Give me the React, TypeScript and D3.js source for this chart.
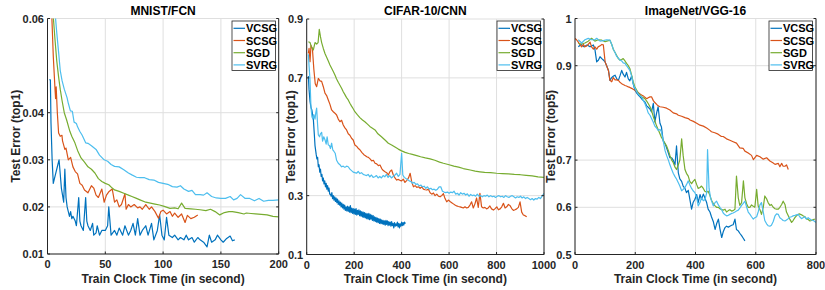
import React from "react";
import * as d3 from "d3";

type P = [number, number];

const seriesNames = ["VCSG", "SCSG", "SGD", "SVRG"];
const seriesColors = ["#0072BD", "#D95319", "#77AC30", "#4DBEEE"];
const titles = ["MNIST/FCN", "CIFAR-10/CNN", "ImageNet/VGG-16"];
const yLabels = ["Test Error (top1)", "Test Error (top1)", "Test Error (top5)"];
const xLabel = "Train Clock Time (in second)";

const mnistXTicks = [0, 50, 100, 150, 200];
const mnistYTicks = [0.01, 0.02, 0.03, 0.04, 0.06];
const cifarXTicks = [0, 200, 400, 600, 800, 1000];
const cifarYTicks = [0.1, 0.3, 0.7, 0.9];
const imagenetXTicks = [0, 200, 400, 600, 800];
const imagenetYTicks = [0.5, 0.6, 0.7, 0.9, 1];

const mnistVCSG: P[] = [[1.5,0.047],[2.5,0.047],[3,0.038],[4,0.030],[5,0.025],[7,0.027],[9,0.029],[10,0.030],[12,0.024],[14,0.021],[15,0.028],[16,0.022],[17,0.020],[19,0.018],[20,0.019],[21,0.0175],[22,0.018],[24,0.017],[25,0.016],[27,0.022],[28,0.017],[29,0.016],[31,0.015],[33,0.022],[34,0.017],[35,0.016],[37,0.015],[39,0.0165],[40,0.014],[42,0.0145],[43,0.016],[45,0.014],[47,0.015],[50,0.015],[52,0.016],[53,0.020],[55,0.014],[58,0.015],[60,0.014],[62,0.0155],[65,0.014],[67,0.016],[70,0.014],[72,0.015],[74,0.0165],[76,0.014],[78,0.0175],[80,0.014],[82,0.015],[85,0.016],[87,0.014],[90,0.0165],[92,0.013],[95,0.015],[97,0.0183],[99,0.014],[101,0.013],[103,0.0178],[105,0.014],[108,0.0135],[110,0.014],[113,0.013],[115,0.0135],[118,0.013],[120,0.014],[122,0.013],[125,0.0135],[127,0.0125],[130,0.0135],[132,0.013],[135,0.0125],[138,0.0115],[140,0.014],[142,0.0125],[145,0.013],[147,0.014],[150,0.013],[152,0.0125],[155,0.0133],[158,0.0138],[160,0.0128],[162,0.013]];
const mnistSCSG: P[] = [[3.5,0.062],[5,0.052],[6.5,0.045],[7,0.043],[7.5,0.0455],[8.5,0.040],[9.6,0.0357],[11,0.035],[12.5,0.0352],[13,0.034],[15,0.0322],[16,0.0325],[18,0.030],[20,0.0305],[22,0.0285],[24,0.0275],[26,0.027],[28,0.025],[30,0.0246],[32,0.0236],[35,0.023],[38,0.0245],[40,0.024],[42,0.0225],[44,0.022],[47,0.0238],[49,0.021],[51,0.0225],[53,0.0232],[56,0.0238],[58,0.021],[60,0.0215],[62,0.020],[64,0.0205],[67,0.0228],[68,0.0195],[70,0.0205],[72,0.020],[75,0.0205],[78,0.0198],[80,0.020],[82,0.0195],[85,0.0205],[88,0.0195],[90,0.0200],[93,0.019],[96,0.0176],[98,0.019],[100,0.0193],[103,0.0185],[106,0.019],[108,0.018],[110,0.0187],[113,0.0178],[116,0.0185],[119,0.0167],[121,0.0182],[124,0.0175],[127,0.0178],[130,0.0183]];
const mnistSGD: P[] = [[4.5,0.062],[6.5,0.0555],[8,0.051],[9.6,0.0476],[11,0.045],[12.5,0.0427],[14.5,0.040],[16.5,0.0385],[19.4,0.036],[21,0.035],[23.7,0.0336],[26,0.032],[29,0.0304],[32,0.0295],[35,0.0285],[38,0.028],[41,0.0272],[44,0.026],[47,0.0254],[50,0.025],[53,0.0247],[56,0.024],[58,0.0236],[62,0.0233],[66,0.0229],[70,0.0225],[73,0.0222],[77,0.0218],[80,0.0215],[85,0.021],[89,0.0208],[93,0.0206],[97,0.0204],[101,0.0201],[106,0.0197],[110,0.0198],[113,0.0196],[116,0.0208],[119,0.0197],[124,0.0196],[128,0.0195],[132,0.0194],[137,0.0192],[141,0.0195],[145,0.019],[149,0.0183],[153,0.0188],[157,0.019],[160,0.019],[165,0.0188],[170,0.0185],[172,0.0187],[176,0.0186],[180,0.0185],[185,0.0184],[190,0.0183],[195,0.018],[200,0.0179]];
const mnistSVRG: P[] = [[6.3,0.062],[8,0.057],[9.7,0.0526],[11,0.049],[12.6,0.0468],[14.5,0.045],[16.9,0.0432],[18,0.042],[19.8,0.0404],[21.5,0.0403],[23,0.038],[25,0.0377],[26,0.037],[28,0.036],[30,0.0352],[33,0.0336],[35,0.0335],[38,0.033],[42,0.0322],[45,0.031],[49,0.0300],[52,0.0297],[55,0.029],[58,0.0286],[62,0.0285],[66,0.0279],[70,0.0272],[73,0.0268],[77,0.0263],[80,0.0262],[84,0.0262],[88,0.0258],[92,0.0257],[96,0.0252],[100,0.025],[104,0.0248],[108,0.0243],[112,0.0242],[115,0.0245],[118,0.0238],[122,0.0233],[125,0.0235],[128,0.0226],[132,0.0226],[135,0.0225],[138,0.0230],[142,0.0222],[146,0.0219],[150,0.0218],[154,0.0218],[158,0.0222],[161,0.0215],[164,0.0218],[167,0.0226],[171,0.0218],[175,0.0218],[179,0.0213],[183,0.0218],[187,0.0212],[191,0.0214],[195,0.0214],[200,0.0215]];

const cifarVCSG: P[] = [[7,0.706],[10,0.66],[14,0.62],[18,0.60],[22,0.59],[28,0.56],[32,0.51],[35,0.47],[40,0.44],[43,0.425],[46,0.43],[49,0.398],[52,0.405],[55,0.38],[58,0.39],[61,0.365],[64,0.372],[67,0.35],[70,0.36],[73,0.34],[76,0.35],[79,0.33],[82,0.342],[85,0.322],[88,0.334],[91,0.315],[94,0.326],[97,0.305],[100,0.305],[103,0.298],[106,0.31],[109,0.29],[112,0.3],[115,0.285],[118,0.296],[121,0.28],[124,0.292],[127,0.276],[130,0.288],[133,0.27],[136,0.282],[139,0.268],[142,0.278],[145,0.262],[148,0.275],[151,0.258],[154,0.27],[157,0.254],[160,0.268],[163,0.25],[166,0.262],[169,0.248],[172,0.264],[175,0.246],[178,0.262],[181,0.244],[184,0.266],[187,0.242],[190,0.258],[193,0.24],[196,0.256],[199,0.238],[202,0.254],[205,0.236],[208,0.256],[211,0.234],[214,0.25],[217,0.236],[220,0.252],[223,0.232],[226,0.248],[229,0.23],[232,0.246],[235,0.228],[238,0.244],[241,0.226],[244,0.242],[247,0.224],[250,0.24],[253,0.222],[256,0.238],[259,0.22],[262,0.24],[265,0.218],[268,0.236],[271,0.22],[274,0.234],[277,0.216],[280,0.232],[283,0.214],[286,0.228],[289,0.212],[292,0.226],[295,0.21],[298,0.224],[301,0.208],[304,0.222],[307,0.206],[310,0.22],[313,0.205],[316,0.218],[319,0.204],[322,0.216],[325,0.202],[328,0.214],[331,0.2],[334,0.216],[337,0.202],[340,0.214],[343,0.198],[346,0.212],[349,0.2],[352,0.21],[355,0.196],[358,0.212],[361,0.198],[364,0.206],[367,0.19],[370,0.208],[373,0.196],[376,0.204],[379,0.198],[382,0.21],[385,0.194],[388,0.206],[391,0.19],[394,0.204],[397,0.196],[400,0.21],[403,0.198],[406,0.208],[409,0.2],[412,0.21],[416,0.205]];
const cifarSCSG: P[] = [[7,0.783],[10,0.80],[14,0.755],[18,0.81],[24,0.80],[30,0.73],[36,0.68],[42,0.67],[49,0.698],[56,0.69],[63,0.688],[70,0.67],[77,0.648],[84,0.64],[91,0.625],[98,0.61],[105,0.591],[112,0.585],[119,0.58],[126,0.574],[133,0.56],[140,0.551],[147,0.556],[154,0.54],[161,0.53],[168,0.523],[175,0.51],[182,0.505],[189,0.495],[196,0.489],[203,0.472],[210,0.468],[218,0.46],[225,0.455],[232,0.447],[240,0.44],[246,0.436],[253,0.432],[260,0.43],[267,0.425],[274,0.418],[281,0.42],[288,0.41],[295,0.408],[302,0.402],[309,0.404],[316,0.392],[323,0.385],[330,0.381],[337,0.378],[344,0.37],[351,0.382],[358,0.387],[365,0.37],[372,0.36],[379,0.353],[386,0.355],[393,0.352],[400,0.35],[407,0.356],[414,0.345],[422,0.352],[429,0.36],[436,0.376],[443,0.345],[450,0.33],[457,0.334],[464,0.328],[471,0.33],[478,0.325],[485,0.33],[492,0.322],[499,0.32],[506,0.319],[513,0.322],[520,0.31],[527,0.305],[534,0.309],[541,0.3],[548,0.305],[555,0.298],[562,0.296],[569,0.3],[576,0.307],[583,0.29],[590,0.279],[597,0.285],[604,0.28],[611,0.276],[618,0.272],[625,0.268],[632,0.265],[639,0.263],[646,0.262],[653,0.26],[660,0.258],[667,0.262],[674,0.258],[681,0.26],[688,0.268],[695,0.279],[702,0.258],[709,0.272],[716,0.292],[723,0.26],[730,0.308],[737,0.262],[744,0.258],[751,0.26],[758,0.255],[765,0.258],[772,0.265],[779,0.255],[787,0.251],[794,0.256],[801,0.262],[808,0.252],[815,0.255],[822,0.262],[829,0.274],[836,0.258],[843,0.262],[850,0.27],[857,0.266],[864,0.256],[871,0.25],[878,0.252],[885,0.255],[892,0.26],[899,0.279],[906,0.244],[913,0.234],[920,0.232],[927,0.228]];
const cifarSGD: P[] = [[7,0.823],[14,0.82],[20,0.805],[28,0.795],[35,0.82],[42,0.815],[48,0.82],[53,0.865],[58,0.84],[63,0.82],[70,0.80],[77,0.783],[84,0.77],[91,0.757],[98,0.744],[105,0.733],[112,0.722],[119,0.71],[126,0.696],[133,0.685],[140,0.675],[147,0.665],[154,0.653],[161,0.643],[168,0.633],[175,0.625],[182,0.614],[189,0.604],[196,0.595],[203,0.585],[214,0.574],[224,0.565],[235,0.557],[245,0.551],[256,0.543],[266,0.535],[277,0.529],[288,0.523],[300,0.51],[315,0.5],[330,0.489],[344,0.478],[358,0.472],[372,0.465],[386,0.458],[400,0.452],[415,0.447],[430,0.443],[445,0.44],[464,0.436],[480,0.432],[500,0.428],[520,0.425],[540,0.42],[560,0.414],[576,0.41],[600,0.405],[620,0.4],[640,0.397],[660,0.392],[689,0.387],[710,0.383],[730,0.381],[750,0.379],[775,0.378],[800,0.376],[825,0.375],[850,0.374],[875,0.372],[900,0.371],[925,0.369],[950,0.367],[975,0.364],[1000,0.362]];
const cifarSVRG: P[] = [[7,0.78],[10,0.74],[14,0.692],[18,0.60],[22,0.568],[26,0.56],[30,0.575],[35,0.56],[38,0.58],[42,0.597],[46,0.54],[49,0.506],[54,0.5],[58,0.51],[63,0.515],[67,0.485],[72,0.5],[77,0.49],[82,0.475],[86,0.5],[91,0.472],[96,0.47],[100,0.46],[105,0.478],[110,0.455],[115,0.45],[120,0.444],[126,0.42],[133,0.41],[140,0.405],[147,0.398],[154,0.4],[161,0.396],[168,0.4],[175,0.398],[182,0.39],[189,0.385],[196,0.38],[203,0.378],[210,0.376],[217,0.382],[224,0.375],[231,0.378],[238,0.372],[245,0.37],[252,0.368],[259,0.372],[266,0.364],[273,0.37],[280,0.362],[287,0.364],[294,0.368],[301,0.36],[308,0.365],[315,0.36],[322,0.368],[329,0.364],[336,0.372],[343,0.362],[350,0.368],[357,0.36],[364,0.365],[372,0.37],[379,0.376],[386,0.365],[393,0.372],[400,0.444],[405,0.37],[411,0.362],[418,0.358],[425,0.355],[432,0.35],[439,0.348],[446,0.342],[453,0.345],[460,0.338],[467,0.34],[474,0.333],[481,0.336],[488,0.33],[495,0.332],[502,0.325],[509,0.33],[516,0.322],[523,0.325],[530,0.32],[537,0.322],[544,0.318],[551,0.322],[558,0.33],[565,0.33],[572,0.315],[579,0.312],[586,0.31],[593,0.312],[600,0.308],[607,0.312],[614,0.31],[621,0.315],[628,0.305],[635,0.308],[642,0.302],[649,0.31],[656,0.305],[663,0.308],[670,0.302],[677,0.306],[684,0.298],[691,0.304],[698,0.3],[705,0.302],[712,0.298],[719,0.305],[726,0.298],[733,0.3],[740,0.296],[747,0.3],[754,0.298],[761,0.302],[768,0.296],[775,0.3],[782,0.296],[789,0.298],[796,0.294],[803,0.298],[810,0.3],[817,0.296],[824,0.298],[831,0.294],[838,0.3],[845,0.296],[852,0.294],[859,0.298],[866,0.3],[873,0.296],[880,0.292],[887,0.296],[894,0.294],[901,0.298],[908,0.292],[915,0.296],[922,0.29],[929,0.294],[936,0.29],[943,0.286],[950,0.29],[957,0.285],[964,0.29],[971,0.288],[978,0.294],[985,0.29],[992,0.298],[1000,0.308]];

const imagenetVCSG: P[] = [[11,0.94],[20,0.945],[30,0.94],[40,0.944],[50,0.94],[61,0.944],[66,0.935],[72,0.908],[78,0.912],[83,0.919],[89,0.915],[94,0.912],[100,0.908],[105,0.9],[111,0.89],[116,0.869],[122,0.875],[128,0.878],[133,0.88],[139,0.872],[144,0.869],[150,0.88],[155,0.89],[160,0.882],[166,0.876],[171,0.886],[177,0.872],[182,0.868],[188,0.878],[193,0.862],[199,0.848],[205,0.842],[210,0.838],[216,0.834],[221,0.83],[227,0.826],[232,0.823],[238,0.815],[243,0.812],[249,0.808],[254,0.802],[260,0.82],[265,0.781],[271,0.8],[276,0.813],[282,0.778],[287,0.77],[293,0.74],[299,0.735],[304,0.726],[310,0.715],[315,0.705],[321,0.705],[326,0.70],[332,0.69],[337,0.73],[343,0.673],[348,0.66],[354,0.655],[359,0.645],[365,0.64],[370,0.631],[376,0.636],[381,0.618],[387,0.596],[392,0.61],[398,0.617],[404,0.627],[409,0.61],[415,0.627],[420,0.617],[426,0.628],[431,0.62],[437,0.61],[442,0.596],[448,0.59],[453,0.58],[459,0.57],[465,0.553],[470,0.565],[476,0.575],[481,0.555],[487,0.536],[492,0.548],[498,0.557],[503,0.56],[509,0.558],[514,0.56],[520,0.562],[525,0.563],[531,0.575],[536,0.553],[542,0.55],[547,0.545],[553,0.54],[558,0.535],[564,0.529]];
const imagenetSCSG: P[] = [[0,0.958],[5,0.955],[11,0.95],[16,0.945],[22,0.94],[28,0.945],[33,0.94],[39,0.942],[44,0.945],[50,0.95],[55,0.94],[61,0.935],[66,0.94],[72,0.935],[77,0.94],[83,0.942],[89,0.945],[94,0.944],[100,0.908],[105,0.9],[111,0.89],[116,0.869],[122,0.866],[127,0.875],[133,0.87],[138,0.87],[144,0.869],[149,0.865],[155,0.862],[160,0.86],[166,0.858],[171,0.857],[177,0.855],[182,0.854],[188,0.852],[193,0.85],[199,0.848],[205,0.845],[210,0.843],[216,0.84],[221,0.838],[227,0.836],[232,0.833],[238,0.83],[243,0.832],[249,0.834],[254,0.834],[260,0.826],[265,0.822],[271,0.818],[276,0.815],[282,0.813],[293,0.812],[304,0.81],[315,0.806],[326,0.8],[337,0.798],[343,0.795],[354,0.793],[365,0.79],[376,0.788],[382,0.785],[393,0.782],[404,0.778],[415,0.774],[426,0.772],[437,0.768],[448,0.763],[453,0.76],[464,0.758],[475,0.755],[486,0.75],[492,0.75],[503,0.745],[514,0.742],[525,0.739],[536,0.736],[547,0.726],[558,0.725],[564,0.719],[575,0.715],[586,0.71],[592,0.701],[603,0.71],[614,0.707],[625,0.702],[636,0.705],[647,0.698],[658,0.694],[664,0.691],[675,0.693],[680,0.686],[686,0.693],[691,0.687],[697,0.687],[702,0.69],[708,0.68]];
const imagenetSGD: P[] = [[11,0.947],[22,0.946],[33,0.948],[44,0.952],[55,0.958],[66,0.952],[77,0.955],[89,0.954],[100,0.951],[111,0.953],[116,0.954],[122,0.945],[127,0.935],[133,0.928],[138,0.922],[144,0.915],[149,0.912],[155,0.913],[160,0.915],[166,0.91],[171,0.905],[177,0.9],[182,0.894],[188,0.88],[193,0.866],[199,0.855],[205,0.848],[210,0.842],[216,0.838],[221,0.834],[227,0.832],[232,0.83],[238,0.825],[243,0.82],[249,0.813],[254,0.805],[260,0.792],[265,0.783],[271,0.772],[276,0.765],[282,0.756],[287,0.748],[293,0.742],[299,0.735],[304,0.73],[310,0.72],[315,0.71],[321,0.7],[326,0.695],[332,0.685],[337,0.68],[343,0.69],[348,0.7],[354,0.745],[359,0.71],[365,0.68],[370,0.672],[376,0.666],[381,0.655],[387,0.65],[392,0.655],[398,0.659],[404,0.648],[409,0.64],[415,0.642],[420,0.645],[426,0.64],[431,0.634],[437,0.632],[442,0.634],[448,0.625],[453,0.615],[459,0.608],[465,0.603],[470,0.6],[476,0.6],[481,0.597],[487,0.595],[492,0.594],[498,0.596],[503,0.59],[509,0.593],[514,0.595],[520,0.592],[525,0.593],[531,0.596],[536,0.666],[542,0.62],[547,0.604],[553,0.61],[559,0.656],[564,0.62],[570,0.607],[575,0.6],[581,0.6],[586,0.605],[592,0.602],[597,0.6],[603,0.638],[608,0.603],[614,0.595],[619,0.585],[625,0.6],[630,0.624],[636,0.618],[641,0.61],[647,0.604],[652,0.606],[658,0.6],[664,0.597],[669,0.596],[675,0.596],[680,0.6],[686,0.606],[691,0.613],[697,0.606],[702,0.59],[708,0.582],[713,0.575],[719,0.568],[724,0.572],[730,0.578],[735,0.582],[741,0.585],[746,0.586],[752,0.584],[757,0.582],[763,0.58],[768,0.576],[774,0.574],[780,0.571],[785,0.572],[791,0.574],[796,0.575]];
const imagenetSVRG: P[] = [[11,0.955],[22,0.948],[33,0.955],[44,0.958],[55,0.955],[66,0.955],[72,0.958],[83,0.952],[94,0.953],[105,0.955],[116,0.954],[122,0.945],[127,0.935],[133,0.928],[138,0.92],[144,0.916],[149,0.912],[155,0.91],[160,0.906],[166,0.905],[171,0.9],[177,0.895],[182,0.89],[188,0.878],[193,0.862],[199,0.852],[205,0.845],[210,0.84],[216,0.836],[221,0.834],[227,0.826],[232,0.82],[238,0.81],[243,0.8],[249,0.795],[254,0.788],[260,0.78],[265,0.772],[271,0.768],[276,0.763],[282,0.765],[287,0.76],[293,0.74],[299,0.72],[304,0.71],[310,0.7],[315,0.69],[321,0.68],[326,0.672],[332,0.665],[337,0.66],[343,0.652],[348,0.645],[354,0.635],[359,0.638],[365,0.642],[370,0.648],[376,0.656],[381,0.648],[387,0.64],[392,0.635],[398,0.631],[404,0.62],[409,0.603],[415,0.61],[420,0.62],[426,0.614],[431,0.616],[437,0.63],[440,0.722],[445,0.64],[450,0.62],[459,0.603],[465,0.61],[470,0.613],[476,0.605],[481,0.6],[487,0.595],[492,0.588],[498,0.584],[503,0.582],[509,0.583],[514,0.585],[520,0.587],[525,0.588],[531,0.59],[536,0.592],[542,0.594],[547,0.598],[553,0.604],[558,0.608],[564,0.613],[570,0.6],[575,0.59],[581,0.585],[586,0.58],[592,0.575],[597,0.578],[603,0.58],[608,0.59],[614,0.605],[619,0.61],[625,0.59],[630,0.572],[636,0.565],[641,0.561],[647,0.56],[652,0.562],[658,0.57],[664,0.582],[669,0.586],[675,0.585],[680,0.578],[686,0.575],[691,0.572],[697,0.571],[702,0.573],[708,0.576],[713,0.579],[719,0.58],[724,0.582],[730,0.583],[735,0.584],[741,0.585],[746,0.58],[752,0.576],[757,0.578],[763,0.58],[768,0.575],[774,0.578],[780,0.575],[785,0.573],[791,0.572],[796,0.57],[800,0.568]];

const FONT = "'Liberation Sans', Arial, Helvetica, sans-serif";
const AX = "#262626";
const GRID = "#dfdfdf";

interface PanelCfg {
  x0: number; x1: number; yb: number; yt: number;
  xd: [number, number]; yd: [number, number];
  xt: number[]; yt2: number[];
  series: P[][];
  legX: number; yLabX: number;
}

const panels: PanelCfg[] = [
  { x0: 47.5, x1: 278.7, yb: 254, yt: 18.5, xd: [0, 200], yd: [0.01, 0.06], xt: mnistXTicks, yt2: mnistYTicks,
    series: [mnistVCSG, mnistSCSG, mnistSGD, mnistSVRG], legX: 232, yLabX: 20 },
  { x0: 306.7, x1: 544, yb: 254.5, yt: 19, xd: [0, 1000], yd: [0.1, 0.9], xt: cifarXTicks, yt2: cifarYTicks,
    series: [cifarVCSG, cifarSCSG, cifarSGD, cifarSVRG], legX: 497, yLabX: 295 },
  { x0: 575, x1: 816, yb: 254.5, yt: 18.5, xd: [0, 800], yd: [0.5, 1], xt: imagenetXTicks, yt2: imagenetYTicks,
    series: [imagenetVCSG, imagenetSCSG, imagenetSGD, imagenetSVRG], legX: 769, yLabX: 555 },
];

function Panel({ cfg, idx }: { cfg: PanelCfg; idx: number }) {
  const x = d3.scaleLinear().domain(cfg.xd).range([cfg.x0, cfg.x1]);
  const y = d3.scaleLinear().domain(cfg.yd).range([cfg.yb, cfg.yt]);
  const line = d3.line<P>().x((d) => x(d[0])).y((d) => y(d[1]));
  const clipId = `clip${idx}`;
  const cx = (cfg.x0 + cfg.x1) / 2;
  const cy = (cfg.yb + cfg.yt) / 2;
  const legY = 21;
  const legW = 43.5;
  const legH = 49.5;
  return (
    <g>
      <defs>
        <clipPath id={clipId}>
          <rect x={cfg.x0} y={cfg.yt} width={cfg.x1 - cfg.x0} height={cfg.yb - cfg.yt} />
        </clipPath>
      </defs>
      {cfg.xt.map((t) => (
        <line key={"gx" + t} x1={x(t)} x2={x(t)} y1={cfg.yb} y2={cfg.yt} stroke={GRID} strokeWidth={1} />
      ))}
      {cfg.yt2.map((t) => (
        <line key={"gy" + t} x1={cfg.x0} x2={cfg.x1} y1={y(t)} y2={y(t)} stroke={GRID} strokeWidth={1} />
      ))}
      <g clipPath={`url(#${clipId})`}>
        {cfg.series.map((s, i) => (
          <path key={i} d={line(s) || ""} fill="none" stroke={seriesColors[i]} strokeWidth={1.2} strokeLinejoin="round" />
        ))}
      </g>
      <line x1={cfg.x0} x2={cfg.x1} y1={cfg.yb} y2={cfg.yb} stroke={AX} strokeWidth={1} />
      <line x1={cfg.x0} x2={cfg.x0} y1={cfg.yb} y2={cfg.yt} stroke={AX} strokeWidth={1} />
      <line x1={cfg.x1} x2={cfg.x1} y1={cfg.yb} y2={cfg.yt} stroke={AX} strokeWidth={1} />
      {cfg.xt.map((t) => (
        <g key={"tx" + t}>
          <line x1={x(t)} x2={x(t)} y1={cfg.yb} y2={cfg.yb - 2.5} stroke={AX} />
          <text x={x(t)} y={cfg.yb + 14} textAnchor="middle" fontSize={11} fontWeight="bold" fill={AX} fontFamily={FONT}>{String(t)}</text>
        </g>
      ))}
      {cfg.yt2.map((t) => (
        <g key={"ty" + t}>
          <line x1={cfg.x0} x2={cfg.x0 + 2.5} y1={y(t)} y2={y(t)} stroke={AX} />
          <line x1={cfg.x1} x2={cfg.x1 - 2.5} y1={y(t)} y2={y(t)} stroke={AX} />
          <text x={cfg.x0 - 3.5} y={y(t) + 4} textAnchor="end" fontSize={11} fontWeight="bold" fill={AX} fontFamily={FONT}>{String(t)}</text>
        </g>
      ))}
      <text x={cx} y={15} textAnchor="middle" fontSize={12} fontWeight="bold" fill="#000" fontFamily={FONT}>{titles[idx]}</text>
      <text x={cx} y={283} textAnchor="middle" fontSize={12} fontWeight="bold" fill={AX} fontFamily={FONT}>{xLabel}</text>
      <text transform={`translate(${cfg.yLabX},${cy}) rotate(-90)`} textAnchor="middle" fontSize={12} fontWeight="bold" fill={AX} fontFamily={FONT}>{yLabels[idx]}</text>
      <g>
        <rect x={cfg.legX} y={legY} width={legW} height={legH} fill="#fff" stroke={AX} strokeWidth={0.8} />
        {seriesNames.map((n, i) => {
          const ry = legY + 7.3 + i * 12.2;
          return (
            <g key={n}>
              <line x1={cfg.legX + 1.5} x2={cfg.legX + 13} y1={ry} y2={ry} stroke={seriesColors[i]} strokeWidth={1.2} />
              <text x={cfg.legX + 14} y={ry + 4} fontSize={11} fontWeight="bold" fill="#000" fontFamily={FONT}>{n}</text>
            </g>
          );
        })}
      </g>
    </g>
  );
}

export default function App() {
  return (
    <svg width={825} height={290} style={{ position: "absolute", left: 0, top: 0, background: "#fff" }}>
      <rect x={0} y={0} width={825} height={290} fill="#fff" />
      {panels.map((p, i) => (
        <Panel key={i} cfg={p} idx={i} />
      ))}
    </svg>
  );
}
